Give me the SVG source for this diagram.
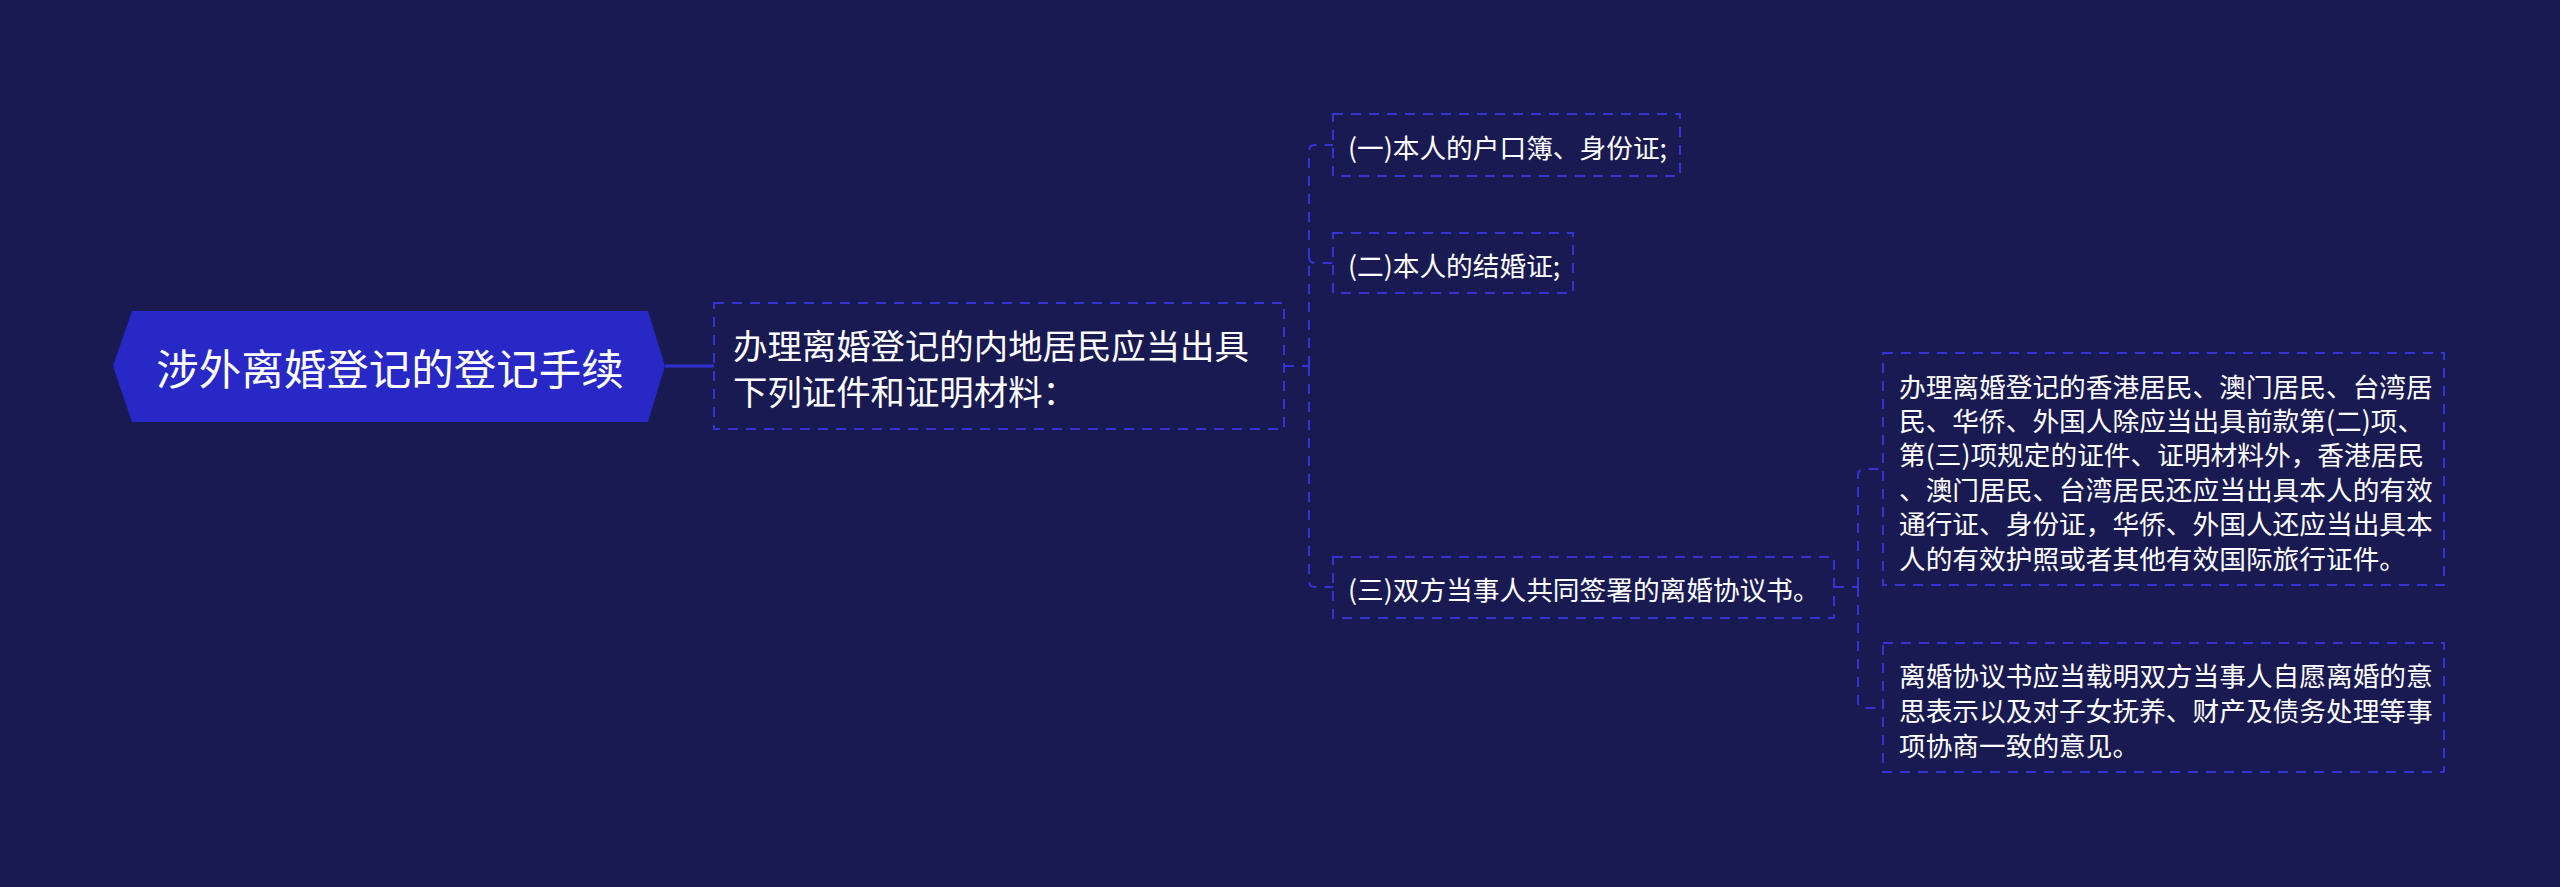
<svg xmlns="http://www.w3.org/2000/svg" width="2560" height="887" viewBox="0 0 2560 887">
<style>
.t{font-family:"Noto Sans CJK SC","Noto Sans",sans-serif;fill:#ffffff;dominant-baseline:central}
.box{fill:none;stroke:#3434d4;stroke-width:2;stroke-dasharray:10 8}
.con{fill:none;stroke:#3434d4;stroke-width:2;stroke-dasharray:10 8}
</style>
<rect x="0" y="0" width="2560" height="887" fill="#1a1a52"/>
<g id="connectors">
<path d="M665 366 H714" fill="none" stroke="#3030d0" stroke-width="3"/>
<path class="con" d="M1284 366 H1309"/>
<path class="con" d="M1309 366 V151 Q1309 145 1315 145 H1333"/>
<path class="con" d="M1309 366 V257 Q1309 263 1315 263 H1333"/>
<path class="con" d="M1309 366 V581 Q1309 587 1315 587 H1333"/>
<path class="con" d="M1834 587 H1858"/>
<path class="con" d="M1858 587 V475 Q1858 469 1864 469 H1883"/>
<path class="con" d="M1858 587 V702 Q1858 708 1864 708 H1883"/>
</g>
<g id="root">
<polygon points="113,366 132,311 648,311 665,366 648,422 132,422" fill="#2828c6"/>
<text class="t" x="390" y="366" font-size="42.5" text-anchor="middle">涉外离婚登记的登记手续</text>
</g>
<g id="node-main">
<rect class="box" x="714" y="303" width="570" height="126"/>
<text class="t" x="733" y="344" font-size="34.4">办理离婚登记的内地居民应当出具</text>
<text class="t" x="733" y="390" font-size="34.4">下列证件和证明材料：</text>
</g>
<g id="node-1">
<rect class="box" x="1333" y="114" width="347" height="62"/>
<text class="t" x="1348" y="146" font-size="26.7">(一)本人的户口簿、身份证;</text>
</g>
<g id="node-2">
<rect class="box" x="1333" y="233" width="240" height="60"/>
<text class="t" x="1348" y="264" font-size="26.7">(二)本人的结婚证;</text>
</g>
<g id="node-3">
<rect class="box" x="1333" y="557" width="501" height="61"/>
<text class="t" x="1348" y="588" font-size="26.7">(三)双方当事人共同签署的离婚协议书。</text>
</g>
<g id="node-4">
<rect class="box" x="1883" y="353" width="561" height="232"/>
<text class="t" x="1899" y="385" font-size="26.7">办理离婚登记的香港居民、澳门居民、台湾居</text>
<text class="t" x="1899" y="419.4" font-size="26.7">民、华侨、外国人除应当出具前款第(二)项、</text>
<text class="t" x="1899" y="453.8" font-size="26.7">第(三)项规定的证件、证明材料外，香港居民</text>
<text class="t" x="1899" y="488.2" font-size="26.7">、澳门居民、台湾居民还应当出具本人的有效</text>
<text class="t" x="1899" y="522.6" font-size="26.7">通行证、身份证，华侨、外国人还应当出具本</text>
<text class="t" x="1899" y="557" font-size="26.7">人的有效护照或者其他有效国际旅行证件。</text>
</g>
<g id="node-5">
<rect class="box" x="1883" y="643" width="561" height="129"/>
<text class="t" x="1899" y="674" font-size="26.7">离婚协议书应当载明双方当事人自愿离婚的意</text>
<text class="t" x="1899" y="709" font-size="26.7">思表示以及对子女抚养、财产及债务处理等事</text>
<text class="t" x="1899" y="744" font-size="26.7">项协商一致的意见。</text>
</g>
</svg>
